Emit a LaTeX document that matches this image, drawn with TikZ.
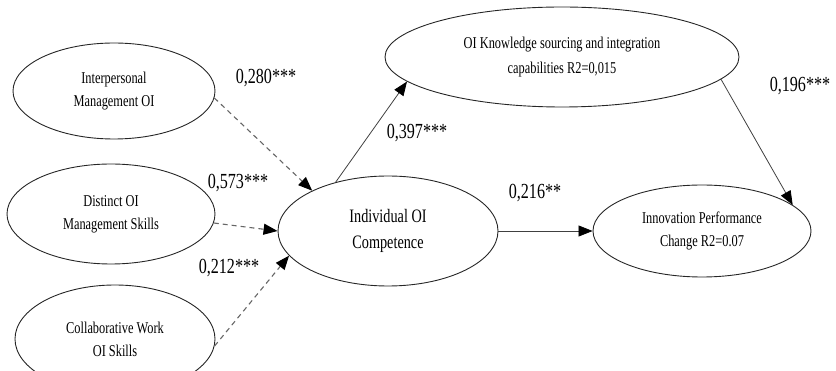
\documentclass[tikz,border=0pt]{standalone}
\usepackage{fontspec}
\setmainfont{Liberation Serif}[FakeStretch=0.75]
\usetikzlibrary{arrows.meta,shapes.geometric}
\begin{document}
\begin{tikzpicture}[x=1pt,y=-1pt,
  construct/.style={ellipse, draw=black!85, line width=0.9pt, inner sep=0pt,
    align=center, text=black, font=\fontsize{16.5}{23}\selectfont},
  coef/.style={text=black, inner sep=0pt, font=\fontsize{21.5}{26}\selectfont},
  tip/.style={-{Triangle[length=14pt,width=11pt,color=black]}},
  path/.style={draw=black!75, line width=0.8pt, tip},
  dpath/.style={draw=black!60, line width=1.1pt, dash pattern=on 5pt off 4pt, tip}
]
\useasboundingbox (0,0) rectangle (836,371);
\clip (0,0) rectangle (836,371);

% antecedent constructs
\node[construct, minimum width=202pt, minimum height=96pt] (ip) at (114,91)
  {Interpersonal\\Management OI};
\node[construct, minimum width=208pt, minimum height=100pt] (ds) at (111,214)
  {Distinct OI\\Management Skills};
\node[construct, minimum width=200pt, minimum height=108pt] (cw) at (115,339)
  {Collaborative Work\\OI Skills};

% mediator and outcomes
\node[construct, minimum width=220pt, minimum height=110pt,
  font=\fontsize{19}{26}\selectfont] (ic) at (388,231)
  {Individual OI\\Competence};
\node[construct, minimum width=354pt, minimum height=100pt,
  font=\fontsize{16.5}{25}\selectfont] (kn) at (562,57)
  {OI Knowledge sourcing and integration\\capabilities R2=0,015};
\node[construct, minimum width=218pt, minimum height=92pt] (ipc) at (702,231)
  {Innovation Performance\\Change R2=0.07};

% paths
\draw[dpath] (ip.-4) -- (ic.152);
\draw[dpath] (ds.-5) -- (ic.west);
\draw[dpath] (cw.-4) -- (ic.194);
\draw[path] (ic.137) -- (kn.189);
\draw[path] (ic.east) -- (ipc.west);
\draw[path] (kn.-8) -- (ipc.16);

% path coefficients
\node[coef] (c1) at (266,78) {0,280***};
\node[coef] (c2) at (238,183) {0,573***};
\node[coef] (c3) at (229,268) {0,212***};
\node[coef] (c4) at (417,133) {0,397***};
\node[coef] (c5) at (535,193) {0,216**};
\node[coef] (c6) at (800,86) {0,196***};
\end{tikzpicture}
\end{document}
